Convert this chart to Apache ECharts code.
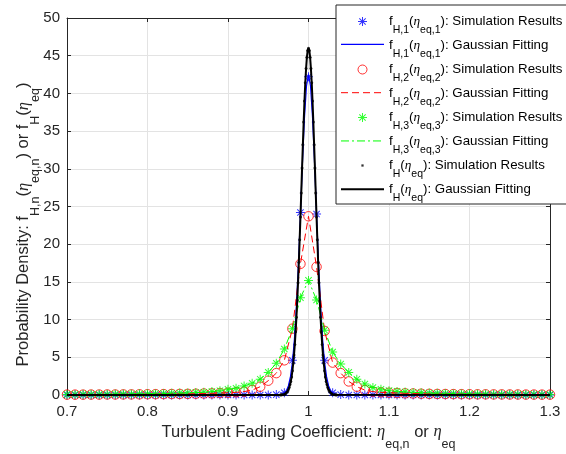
<!DOCTYPE html>
<html><head><meta charset="utf-8">
<script src="https://cdn.jsdelivr.net/npm/echarts@6/dist/echarts.min.js"></script>
<style>html,body{margin:0;padding:0;background:#fff}#c{width:566px;height:454px}</style>
</head><body><div id="c"></div>
<script>
// ---------- data ----------
const xCoarse = [0.70,0.71,0.72,0.73,0.74,0.75,0.76,0.77,0.78,0.79,0.80,0.81,0.82,0.83,0.84,0.85,0.86,0.87,0.88,0.89,0.90,0.91,0.92,0.93,0.94,0.95,0.96,0.97,0.98,0.99,1.00,1.01,1.02,1.03,1.04,1.05,1.06,1.07,1.08,1.09,1.10,1.11,1.12,1.13,1.14,1.15,1.16,1.17,1.18,1.19,1.20,1.21,1.22,1.23,1.24,1.25,1.26,1.27,1.28,1.29,1.30];
const fH1Sim = [0,0,0,0,0,0,0,0,0,0, 0,0,0,0,0,0,0,0,0,0, 0,0,0,0,0,0,0.05,0.3,4.6,24.2, 42.2,24.0,4.6,0.3,0.05,0,0,0,0,0, 0,0,0,0,0,0,0,0,0,0, 0,0,0,0,0,0,0,0,0,0,0];
const fH2Sim = [0.05,0.05,0.05,0.06,0.06,0.07,0.07,0.08,0.08,0.09, 0.10,0.11,0.12,0.13,0.14,0.15,0.17,0.20,0.22,0.26, 0.30,0.36,0.45,0.65,1.10,1.90,2.90,4.60,8.80,17.4, 23.7,17.0,8.50,4.30,2.90,1.80,1.10,0.65,0.45,0.35, 0.30,0.26,0.22,0.20,0.17,0.15,0.14,0.13,0.12,0.11, 0.10,0.09,0.09,0.08,0.08,0.07,0.07,0.06,0.06,0.05,0.05];
const fH3Sim = [0.08,0.08,0.09,0.10,0.10,0.11,0.12,0.13,0.14,0.15, 0.17,0.18,0.20,0.22,0.25,0.28,0.32,0.37,0.45,0.57, 0.75,0.90,1.20,1.55,2.10,3.00,4.20,6.10,8.80,12.9, 15.2,12.6,8.60,5.70,4.10,3.00,2.10,1.46,1.00,0.75, 0.58,0.48,0.40,0.34,0.30,0.26,0.23,0.20,0.18,0.16, 0.15,0.13,0.12,0.11,0.10,0.10,0.09,0.08,0.08,0.07,0.07];
const fH1FitX = [0.70,0.96,0.9625,0.965,0.9675,0.97,0.9725,0.975,0.9775,0.98,0.9825,0.985,0.9875,0.99,0.9925,0.995,0.9975,1.00,1.0025,1.005,1.0075,1.01,1.0125,1.015,1.0175,1.02,1.0225,1.025,1.0275,1.03,1.0325,1.035,1.0375,1.04,1.30];
const fH1FitY = [0,0,0.015,0.04,0.10,0.25,0.57,1.2,2.4,4.3,7.4,11.8,17.4,24.0,30.8,36.8,41.0,42.5,41.0,36.8,30.8,24.0,17.4,11.8,7.4,4.3,2.4,1.2,0.57,0.25,0.10,0.04,0.015,0,0];
const fHX = [0.965,0.966,0.967,0.968,0.969,0.970,0.971,0.972,0.973,0.974,0.975,0.976,0.977,0.978,0.979,0.980,0.981,0.982,0.983,0.984,0.985,0.986,0.987,0.988,0.989,0.990,0.991,0.992,0.993,0.994,0.995,0.996,0.997,0.998,0.999,1.000,1.001,1.002,1.003,1.004,1.005,1.006,1.007,1.008,1.009,1.010,1.011,1.012,1.013,1.014,1.015,1.016,1.017,1.018,1.019,1.020,1.021,1.022,1.023,1.024,1.025,1.026,1.027,1.028,1.029,1.030,1.031,1.032,1.033,1.034,1.035];
const fHSim = [0.01,0.02,0.03,0.05,0.08,0.12,0.17,0.25,0.36,0.51,0.72,1.0,1.4,1.8,2.4,3.2,4.2,5.3,6.7,8.4,10.3,12.5,14.9,17.6,20.6,23.6,26.8,30.1,33.2,36.2,39.0,41.4,43.3,44.8,45.7,46.0,45.7,44.8,43.3,41.4,39.0,36.2,33.2,30.1,26.8,23.6,20.6,17.6,14.9,12.5,10.3,8.4,6.7,5.3,4.2,3.2,2.4,1.8,1.4,1.0,0.72,0.51,0.36,0.25,0.17,0.12,0.08,0.05,0.03,0.02,0.01];
const xTickMin = 0.7, xTickMax = 1.3, xTickStep = 0.1;
const yTickMin = 0, yTickMax = 50, yTickStep = 5;

// ---------- helpers ----------
const zip = (xs, ys) => xs.map((x, i) => [x, ys[i]]);
const FONT = "'Liberation Sans', Arial, Helvetica, sans-serif";
const GREEK = "'Liberation Serif', 'DejaVu Serif', serif";
const AX = '#262626';
const STAR = 'path://M-0.55,-5L0.55,-5L0.55,5L-0.55,5Z M-5,-0.55L5,-0.55L5,0.55L-5,0.55Z M-3.15,-3.93L3.93,3.15L3.15,3.93L-3.93,-3.15Z M3.93,-3.15L-3.15,3.93L-3.93,3.15L3.15,-3.93Z';
const DOT = 'path://M-4,-4M4,4M-1,-1L1,-1L1,1L-1,1Z';
const BLANK = 'path://M0,0L43,0L43,9L0,9Z';

const labels = {
  fH1sim: '{n|f}{s|H,1}{n|(}{e|η}{s|eq,1}{n|): Simulation Results}',
  fH1fit: '{n|f}{s|H,1}{n|(}{e|η}{s|eq,1}{n|): Gaussian Fitting}',
  fH2sim: '{n|f}{s|H,2}{n|(}{e|η}{s|eq,2}{n|): Simulation Results}',
  fH2fit: '{n|f}{s|H,2}{n|(}{e|η}{s|eq,2}{n|): Gaussian Fitting}',
  fH3sim: '{n|f}{s|H,3}{n|(}{e|η}{s|eq,3}{n|): Simulation Results}',
  fH3fit: '{n|f}{s|H,3}{n|(}{e|η}{s|eq,3}{n|): Gaussian Fitting}',
  fHsim:  '{n|f}{s|H}{n|(}{e|η}{s|eq}{n|): Simulation Results}',
  fHfit:  '{n|f}{s|H}{n|(}{e|η}{s|eq}{n|): Gaussian Fitting}'
};

const nameRich = {
  n: {fontSize: 16.5, lineHeight: 38, fontFamily: FONT, color: AX},
  s: {fontSize: 12.5, verticalAlign: 'bottom', fontFamily: FONT, color: AX},
  e: {fontSize: 16.5, lineHeight: 38, fontFamily: GREEK, fontStyle: 'italic', color: AX}
};

const chart = echarts.init(document.getElementById('c'), null, {renderer: 'canvas'});
const axisCommon = {
  type: 'value',
  axisLine: {show: true, onZero: false, lineStyle: {color: AX, width: 1}},
  axisTick: {show: true, inside: true, length: 4, lineStyle: {color: AX}},
  nameMoveOverlap: false
};
const quiet = {silent: true, emphasis: {disabled: true}};

// legend line samples for the fitted curves (legend rows 2,4,6,8)
const LEG_X0 = 341, LEG_X1 = 384, ROW0 = 20.3, ROW_PITCH = 24.13;
const legendLine = (row, stroke, width, dash) => ({
  type: 'line', z: 100, silent: true,
  shape: {x1: LEG_X0, y1: ROW0 + ROW_PITCH * row, x2: LEG_X1, y2: ROW0 + ROW_PITCH * row},
  style: {stroke, lineWidth: width, lineDash: dash || null}
});

chart.setOption({
  animation: false,
  backgroundColor: '#fff',
  textStyle: {fontFamily: FONT},
  grid: {left: 67, right: 16, top: 18, bottom: 59, containLabel: false, outerBoundsMode: 'none'},
  xAxis: [
    Object.assign({}, axisCommon, {
      position: 'bottom', min: xTickMin, max: xTickMax, interval: xTickStep,
      axisLabel: {show: true, fontSize: 15, color: AX, margin: 9, fontFamily: FONT},
      splitLine: {show: true, lineStyle: {color: '#e3e3e3', width: 1}},
      name: '{n|Turbulent Fading Coefficient: }{e|η}{s|eq,n}{n| or }{e|η}{s|eq}',
      nameLocation: 'middle', nameGap: 18,
      nameTextStyle: {rich: nameRich}
    }),
    Object.assign({}, axisCommon, {
      position: 'top', min: xTickMin, max: xTickMax, interval: xTickStep,
      axisLabel: {show: false}, splitLine: {show: false}
    })
  ],
  yAxis: [
    Object.assign({}, axisCommon, {
      position: 'left', min: yTickMin, max: yTickMax, interval: yTickStep,
      axisLabel: {show: true, fontSize: 15, color: AX, margin: 7, fontFamily: FONT},
      splitLine: {show: true, lineStyle: {color: '#e3e3e3', width: 1}},
      name: '{n|Probability Density: f}{s|H,n}{n|(}{e|η}{s|eq,n}{n|) or f}{s|H}{n|(}{e|η}{s|eq}{n|)}',
      nameLocation: 'middle', nameGap: 24.5, nameRotate: 90,
      nameTextStyle: {rich: nameRich, padding: [0, 36, 0, 0]}
    }),
    Object.assign({}, axisCommon, {
      position: 'right', min: yTickMin, max: yTickMax, interval: yTickStep,
      axisLabel: {show: false}, splitLine: {show: false}
    })
  ],
  legend: {
    show: true, orient: 'vertical', left: 336, top: 5,
    padding: [10, 5, 0, 5], itemGap: 3, itemWidth: 43, itemHeight: 9,
    backgroundColor: '#fff', borderColor: AX, borderWidth: 1, borderRadius: 0,
    selectedMode: false, symbolKeepAspect: true,
    formatter: (nm) => labels[nm],
    textStyle: {
      fontFamily: FONT, color: '#000',
      rich: {
        n: {fontSize: 13.3, lineHeight: 29, fontFamily: FONT, color: '#000'},
        s: {fontSize: 10.5, verticalAlign: 'bottom', fontFamily: FONT, color: '#000'},
        e: {fontSize: 13.3, lineHeight: 29, fontFamily: GREEK, fontStyle: 'italic', color: '#000'}
      }
    },
    data: [
      {name: 'fH1sim', itemStyle: {color: '#0000ff', borderWidth: 0}},
      {name: 'fH1fit', icon: BLANK, itemStyle: {opacity: 0}},
      {name: 'fH2sim', itemStyle: {color: 'rgba(0,0,0,0)', borderColor: '#ff0000', borderWidth: 1}},
      {name: 'fH2fit', icon: BLANK, itemStyle: {opacity: 0}},
      {name: 'fH3sim', itemStyle: {color: '#00ff00', borderWidth: 0}},
      {name: 'fH3fit', icon: BLANK, itemStyle: {opacity: 0}},
      {name: 'fHsim', icon: DOT, itemStyle: {color: '#000000', borderWidth: 0}},
      {name: 'fHfit', icon: BLANK, itemStyle: {opacity: 0}}
    ]
  },
  graphic: [
    legendLine(1, '#0000ff', 1.2),
    legendLine(3, '#ff0000', 1, [7, 4]),
    legendLine(5, '#00ff00', 1, [8, 3, 2, 3]),
    legendLine(7, '#000000', 2)
  ],
  series: [
    Object.assign({name: 'fH1sim', type: 'scatter', data: zip(xCoarse, fH1Sim), symbol: STAR, symbolSize: 9,
     itemStyle: {color: '#0000ff'}}, quiet),
    Object.assign({name: 'fH1fit', type: 'line', data: zip(fH1FitX, fH1FitY), symbol: 'none', showSymbol: false,
     lineStyle: {color: '#0000ff', width: 1.2}}, quiet),
    Object.assign({name: 'fH2sim', type: 'scatter', data: zip(xCoarse, fH2Sim), symbol: 'circle', symbolSize: 9.5,
     itemStyle: {color: 'rgba(0,0,0,0)', borderColor: '#ff0000', borderWidth: 1}}, quiet),
    Object.assign({name: 'fH2fit', type: 'line', data: zip(xCoarse, fH2Sim), symbol: 'none', showSymbol: false,
     lineStyle: {color: '#ff0000', width: 1, type: [7, 4]}}, quiet),
    Object.assign({name: 'fH3sim', type: 'scatter', data: zip(xCoarse, fH3Sim), symbol: STAR, symbolSize: 9,
     itemStyle: {color: '#00ff00'}}, quiet),
    Object.assign({name: 'fH3fit', type: 'line', data: zip(xCoarse, fH3Sim), symbol: 'none', showSymbol: false,
     lineStyle: {color: '#00ff00', width: 1, type: [8, 3, 2, 3]}}, quiet),
    Object.assign({name: 'fHsim', type: 'scatter', data: zip(fHX, fHSim), symbol: 'circle', symbolSize: 3,
     itemStyle: {color: '#000000'}}, quiet),
    Object.assign({name: 'fHfit', type: 'line', data: [[xTickMin, 0]].concat(zip(fHX, fHSim), [[xTickMax, 0]]), symbol: 'none', showSymbol: false,
     lineStyle: {color: '#000000', width: 2}}, quiet)
  ]
});
</script></body></html>
